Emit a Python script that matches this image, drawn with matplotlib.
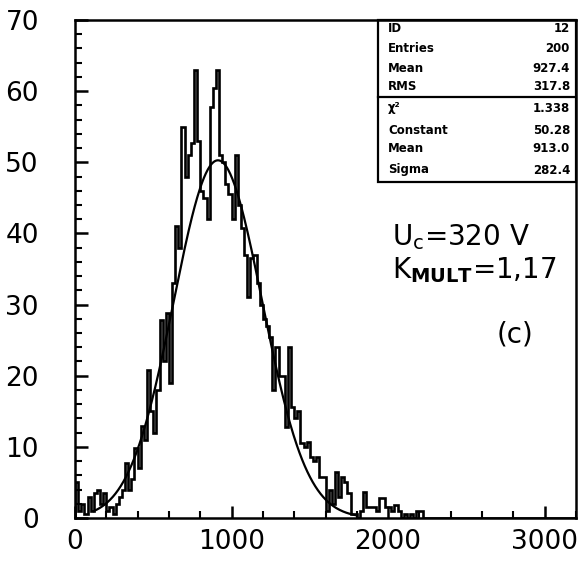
import numpy as np
import matplotlib
matplotlib.use("Agg")
import matplotlib.pyplot as plt

# ---- data ----
bin_width = 20
hist_values = [
    5, 1, 2, 0.5, 3, 1, 3.5, 4, 2, 3.5,
    1, 1.5, 0.5, 2, 3, 4, 7.7, 4, 5.5, 9.8,
    7, 13, 11, 20.8, 15, 12, 18, 27.8, 22, 28.8,
    19, 33, 41, 38, 55, 48, 51, 52.7, 63, 53,
    46, 45, 42, 57.8, 60.4, 63, 51, 50, 47, 45.5,
    42, 51, 44, 40.8, 37, 31, 36.5, 37, 33, 30,
    28, 27, 25.5, 18, 24, 20, 20, 12.8, 24, 15.6,
    14, 15, 10.5, 10, 10.7, 8.6, 8, 8.6, 5.8, 5.8,
    1, 4, 2, 6.5, 3, 5.8, 5, 3.5, 0.5, 0.5,
    0, 1, 3.6, 1.5, 1.5, 1.5, 1, 2.8, 2.8, 1.5,
    1.5, 1, 1.8, 1, 0, 0.5, 0, 0.5, 0, 1,
    1, 0,
]
n_bins = 160
hist_values = hist_values + [0] * (n_bins - len(hist_values))
edges = np.arange(n_bins + 1) * bin_width

fit_constant = 50.28
fit_mean = 913.0
fit_sigma = 282.4
fit_range = (120, 1800)

stats_top = [("ID", "12"), ("Entries", "200"), ("Mean", "927.4"), ("RMS", "317.8")]
stats_bottom = [("χ²", "1.338"), ("Constant", "50.28"), ("Mean", "913.0"), ("Sigma", "282.4")]

xticks_major = [0, 1000, 2000, 3000]
yticks_major = [0, 10, 20, 30, 40, 50, 60, 70]

# ---- figure ----
fig = plt.figure(figsize=(5.87, 5.62), dpi=100)
ax = fig.add_axes([75/587, 1 - 518/562, (576 - 75)/587, (518 - 20)/562])

ax.stairs(hist_values, edges, color="black", lw=1.9)
xf = np.linspace(fit_range[0], fit_range[1], 400)
yf = fit_constant * np.exp(-0.5 * ((xf - fit_mean) / fit_sigma) ** 2)
ax.plot(xf, yf, color="black", lw=1.6)

ax.set_xlim(0, 3200)
ax.set_ylim(0, 70)
ax.set_xticks(xticks_major)
ax.set_yticks(yticks_major)
ax.set_xticks(np.arange(0, 3201, 200), minor=True)
ax.set_yticks(np.arange(0, 71, 2), minor=True)
ax.tick_params(axis="both", which="major", direction="in", length=9, width=1.8,
               labelsize=19, top=False, right=False)
ax.tick_params(axis="both", which="minor", direction="in", length=5, width=1.5,
               top=False, right=False)
ax.tick_params(axis="y", which="major", pad=26)
ax.tick_params(axis="x", which="major", pad=8)
for s in ax.spines.values():
    s.set_linewidth(1.8)

# ---- stats box ----
bx0, by0 = (378 - 75) / (576 - 75), (518 - 182) / 498
ax.add_patch(plt.Rectangle((bx0, by0), 1 - bx0, 1 - by0, transform=ax.transAxes,
                           fill=False, lw=1.6, color="black", clip_on=False))
sep_y = (518 - 97) / 498
ax.plot([bx0, 1], [sep_y, sep_y], transform=ax.transAxes, color="black", lw=1.6)
row_px = [28, 48, 68, 87, 108, 130, 149, 170]
rows = stats_top + stats_bottom
lx = (388 - 75) / (576 - 75)
rx = (570 - 75) / (576 - 75)
for (lab, val), py in zip(rows, row_px):
    yy = (518 - py) / 498
    ax.text(lx, yy, lab, transform=ax.transAxes, fontsize=8.5, fontweight="bold",
            ha="left", va="center")
    ax.text(rx, yy, val, transform=ax.transAxes, fontsize=8.5, fontweight="bold",
            ha="right", va="center")

# ---- annotations ----
ax.text((392 - 75) / 501, (518 - 245) / 498, r"U$_{\mathrm{c}}$=320 V", transform=ax.transAxes,
        fontsize=20, ha="left", va="baseline")
ax.text((392 - 75) / 501, (518 - 278) / 498, r"K$_{\mathbf{MULT}}$=1,17", transform=ax.transAxes,
        fontsize=20, ha="left", va="baseline")
ax.text((497 - 75) / 501, (518 - 343) / 498, "(c)", transform=ax.transAxes,
        fontsize=20, ha="left", va="baseline")

fig.savefig("out.png", dpi=100)
